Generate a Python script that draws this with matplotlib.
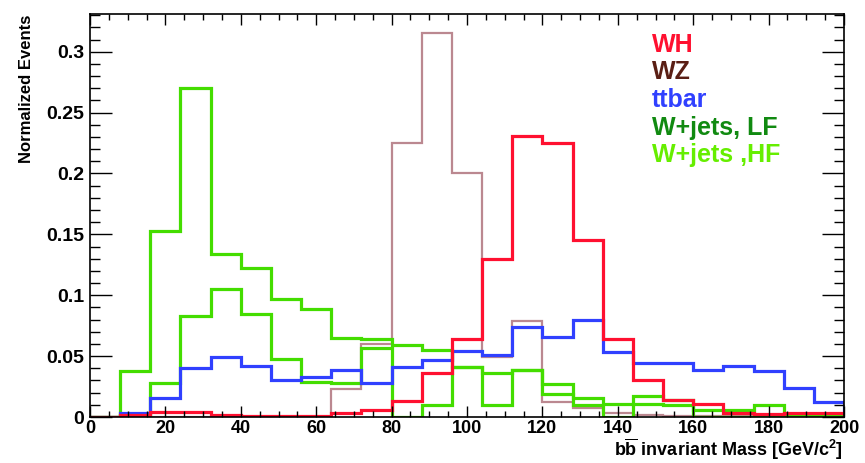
import numpy as np
import matplotlib
matplotlib.use("Agg")
import matplotlib.pyplot as plt
from matplotlib.ticker import MultipleLocator

plt.rcParams['font.family'] = ['Liberation Sans', 'DejaVu Sans']
plt.rcParams['font.weight'] = 'bold'
plt.rcParams['mathtext.fontset'] = 'custom'
plt.rcParams['mathtext.rm'] = 'Liberation Sans:bold'
plt.rcParams['mathtext.it'] = 'Liberation Sans:bold'

# bin edges, 8 GeV bins from 0 to 200
edges = np.arange(0, 201, 8)

wh = [0, 0.002, 0.004, 0.004, 0.002, 0.001, 0.001, 0.001, 0.003, 0.0055,
      0.013, 0.036, 0.064, 0.130, 0.231, 0.225, 0.145, 0.064, 0.030, 0.014,
      0.011, 0.003, 0.0027, 0.003, 0.003]
wz = [0, 0, 0, 0, 0, 0, 0, 0, 0.023, 0.060,
      0.225, 0.315, 0.200, 0.049, 0.079, 0.012, 0.007, 0.003, 0.002, 0.001,
      0.001, 0.001, 0.001, 0.0005, 0.0005]
ttbar = [0, 0.003, 0.016, 0.040, 0.049, 0.042, 0.030, 0.033, 0.039, 0.028,
         0.041, 0.047, 0.054, 0.051, 0.074, 0.066, 0.080, 0.053, 0.044, 0.044,
         0.039, 0.042, 0.038, 0.024, 0.012]
wjets_lf = [0, 0.038, 0.153, 0.270, 0.134, 0.122, 0.097, 0.089, 0.065, 0.064,
            0.059, 0.055, 0.041, 0.036, 0.039, 0.027, 0.016, 0.011, 0.017, 0.014,
            0.0055, 0.0055, 0.0096, 0.001, 0.001]
wjets_hf = [0, 0.002, 0.028, 0.083, 0.105, 0.085, 0.048, 0.029, 0.028, 0.057,
            0.0, 0.0096, 0.041, 0.0096, 0.039, 0.019, 0.0096, 0.0, 0.011, 0.0096,
            0.0, 0.0, 0.002, 0.0, 0.0]

labels = ['WH', 'WZ', 'ttbar', 'W+jets, LF', 'W+jets ,HF']
text_cols = ['#ff1030', '#5a1e14', '#3040ff', '#118a11', '#66ee00']

fig = plt.figure(figsize=(8.65, 4.63), dpi=100)
ax = fig.add_axes([90/865, 1-417/463, 754/865, 403/463])

ax.stairs(wz, edges, color='#bb8890', lw=1.6)
ax.stairs(wjets_hf, edges, color='#44dd00', lw=2.3)
ax.stairs(wjets_lf, edges, color='#44dd00', lw=2.3)
ax.stairs(ttbar, edges, color='#3040ff', lw=2.3)
ax.stairs(wh, edges, color='#ff1030', lw=2.3)

ax.set_xlim(0, 200)
ax.set_ylim(0, 0.331)

ax.xaxis.set_major_locator(MultipleLocator(20))
ax.xaxis.set_minor_locator(MultipleLocator(5))
ax.yaxis.set_minor_locator(MultipleLocator(0.01))
ax.set_yticks([0, 0.05, 0.1, 0.15, 0.2, 0.25, 0.3])
ax.set_yticklabels(['0', '0.05', '0.1', '0.15', '0.2', '0.25', '0.3'])

ax.tick_params(axis='x', which='major', direction='in', length=8, width=1,
               top=True, labelsize=13, pad=2)
ax.tick_params(axis='x', which='minor', direction='in', length=4, width=1, top=True)
ax.tick_params(axis='y', which='major', direction='in', length=16, width=1,
               right=True, labelsize=14, pad=4)
ax.tick_params(axis='y', which='minor', direction='in', length=7, width=1, right=True)
for s in ax.spines.values():
    s.set_linewidth(1.2)

ys = [0.923, 0.856, 0.787, 0.717, 0.650]
for lab, c, y in zip(labels, text_cols, ys):
    ax.text(0.745, y, lab, transform=ax.transAxes, color=c, fontsize=18,
            fontweight='bold', va='center', ha='left')

fig.text(27/865, 1-15/463, 'Normalized Events', rotation=90, va='top',
         ha='center', fontsize=12, fontweight='bold')
fig.text(843/865, 1/463, r'b$\overline{\mathrm{b}}$ invariant Mass [GeV/c$^{2}$]',
         ha='right', va='bottom', fontsize=13, fontweight='bold')

fig.savefig('out.png', dpi=100)
